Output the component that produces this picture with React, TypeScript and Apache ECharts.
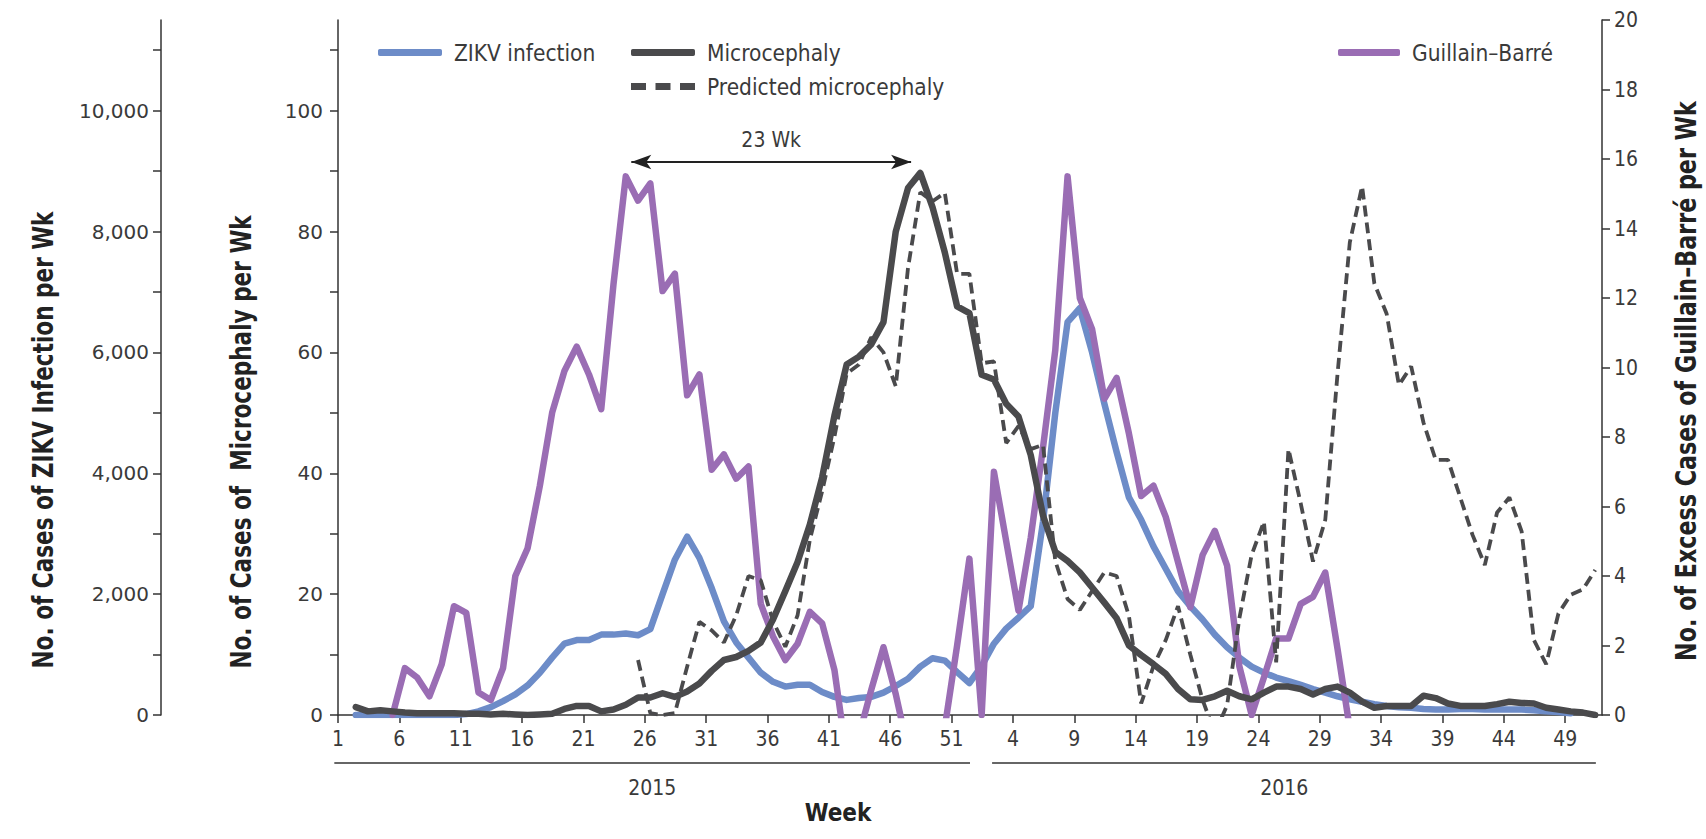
import React, { useEffect, useRef } from "react";
import * as echarts from "echarts";

// Week positions: index 0 = 2015 week 1, index 52 = 2016 week 1. Points sit mid-week.
const WEEK_OFFSET = 0.45;
const X_MAX = 103;
const TICK_LABELS = ["1", "6", "11", "16", "21", "26", "31", "36", "41", "46", "51", "4", "9", "14", "19", "24", "29", "34", "39", "44", "49"];

// ZIKV infection cases per week (left outer axis)
const ZIKV = [
  null, 0, 0, 0, 0, 0, 0, 0, 0, 0,
  15, 60, 130, 230, 340, 490, 700, 950, 1180, 1240,
  1240, 1330, 1330, 1350, 1320, 1420, 2000, 2570, 2950, 2600,
  2100, 1550, 1200, 950, 700, 550, 470, 500, 500, 380,
  300, 250, 280, 300, 370, 480, 600, 800, 940, 900,
  710, 530, 810, 1180, 1430, 1610, 1800, 3200, 5000, 6500,
  6730, 6000, 5150, 4350, 3600, 3230, 2790, 2420, 2050, 1800,
  1580, 1330, 1120, 950, 800, 700, 620, 560, 500, 430,
  370, 310, 260, 220, 180, 150, 130, 120, 100, 90,
  90, 100, 100, 90, 90, 90, 90, 80, 60, 50,
  30, null, null,
];

// Microcephaly cases per week
const MICRO = [
  null, 1.3, 0.6, 0.8, 0.6, 0.4, 0.3, 0.3, 0.3, 0.3,
  0.2, 0.2, 0.1, 0.2, 0.1, 0, 0.1, 0.2, 1.0, 1.5,
  1.5, 0.6, 0.9, 1.7, 2.9, 2.9, 3.6, 3.0, 3.9, 5.2,
  7.3, 9.1, 9.6, 10.6, 12, 15.8, 20.5, 25.3, 31.5, 39.3,
  49.5, 58, 59.3, 61.3, 65, 80, 87.2, 89.7, 84, 76.5,
  67.6, 66.5, 56.3, 55.5, 51.5, 49.4, 43, 33, 27, 25.5,
  23.6, 21.1, 18.6, 16, 11.5, 9.9, 8.4, 6.8, 4.3, 2.6,
  2.5, 3.1, 4.0, 3.1, 2.6, 3.7, 4.7, 4.7, 4.3, 3.4,
  4.3, 4.7, 3.7, 2.2, 1.2, 1.5, 1.5, 1.5, 3.2, 2.8,
  1.9, 1.5, 1.5, 1.5, 1.8, 2.2, 2.0, 1.9, 1.2, 0.9,
  0.6, 0.4, 0,
];

// Predicted microcephaly per week
const PREDICTED = [
  null, null, null, null, null, null, null, null, null, null,
  null, null, null, null, null, null, null, null, null, null,
  null, null, null, null, 9.1, 0.3, 0, 0.3, 8, 15.4,
  14, 12, 16.5, 23, 22.3, 15.5, 11.3, 16.5, 29, 37,
  46, 56.5, 58, 62.5, 60, 54.4, 74, 86.5, 85, 86.4,
  73, 73, 58.2, 58.5, 45, 47.8, 44, 44.7, 25.5, 19.2,
  17.4, 20.5, 23.6, 23, 16.4, 1.9, 8.1, 12.4, 18, 10,
  2.5, -3, 1.6, 16, 26.5, 32, 8.7, 44, 35, 25.4,
  32.3, 56.5, 78.2, 87.5, 71.4, 66.4, 54.6, 57.7, 48.4, 42.2,
  42.2, 36, 29.8, 24.8, 33.5, 36, 30.4, 12.4, 8.4, 16.8,
  19.9, 20.8, 24,
];

// Excess Guillain-Barre cases per week (right axis)
const GBS = [
  null, null, null, null, 0, 1.35, 1.08, 0.54, 1.46, 3.13,
  2.94, 0.65, 0.43, 1.35, 4.0, 4.8, 6.6, 8.7, 9.9, 10.6,
  9.8, 8.8, 12.4, 15.5, 14.8, 15.3, 12.2, 12.7, 9.2, 9.8,
  7.06, 7.5, 6.8, 7.15, 3.2, 2.26, 1.58, 2.05, 2.97, 2.64,
  1.3, -1.2, -0.6, 0.72, 1.95, 0.6, -1.0, -1.5, -1.5, -0.35,
  2.0, 4.5, 0, 7.0, 5.0, 3.0, 5.1, 7.7, 10.5, 15.5,
  12.0, 11.1, 9.1, 9.7, 8.1, 6.3, 6.6, 5.7, 4.4, 3.1,
  4.6, 5.3, 4.3, 1.4, 0, 1.08, 2.2, 2.2, 3.2, 3.4,
  4.1, 1.9, -0.4, null, null, null, null, null, null, null,
  null, null, null, null, null, null, null, null, null, null,
  null, null, null,
];

// Annotation: lag between peaks
const LAG_LABEL = "23 Wk";
const LAG_FROM_WEEK = 23.9;
const LAG_TO_WEEK = 46.7;
const LAG_LEVEL = 91.5;

const MICRO_TICKS = [0, 10, 20, 30, 40, 50, 60, 70, 80, 90, 100, 110];
const MICRO_LABELS = [0, 20, 40, 60, 80, 100];
const ZIKV_TICKS = [0, 1000, 2000, 3000, 4000, 5000, 6000, 7000, 8000, 9000, 10000, 11000];
const ZIKV_LABELS = [0, 2000, 4000, 6000, 8000, 10000];

const BLUE = "#6d8cc8";
const DARK = "#4a4a4c";
const PURPLE = "#9a6db4";
const AXIS = "#333333";
const TEXT = "#3a3a3a";

const CONDENSED = "'Liberation Sans Narrow', 'DejaVu Sans Condensed', 'Roboto Condensed', 'Open Sans', sans-serif";
const WIDE = "'DejaVu Sans', 'Open Sans', sans-serif";
const DASH_ICON = "path://M0,0H15V7H0Z M24.5,0H39.5V7H24.5Z M49,0H64V7H49Z";

const toPoints = (arr: (number | null)[]) => arr.map((v, k) => [k + WEEK_OFFSET, v]);

export default function App() {
  const ref = useRef<HTMLDivElement>(null);

  useEffect(() => {
    if (!ref.current) return;
    const chart = echarts.init(ref.current, undefined, { renderer: "svg" });
    const tickPos = TICK_LABELS.map((_, i) => i * 5);
    const axisLineStyle = { color: AXIS, width: 1.5 };
    const legendText = { fontSize: 22.5, color: TEXT, fontFamily: CONDENSED, padding: [0, 0, 0, 7] };

    const option: any = {
      animation: false,
      backgroundColor: "#ffffff",
      grid: { left: 338, right: 104, top: 20, bottom: 124, containLabel: false },
      legend: [
        {
          data: [{ name: "ZIKV infection", icon: "roundRect" }], left: 373, top: 36, itemWidth: 64, itemHeight: 7,
          lineStyle: { width: 0 }, itemStyle: { borderWidth: 0 },
          textStyle: legendText,
        },
        {
          data: [
            { name: "Microcephaly", icon: "roundRect" },
            { name: "Predicted microcephaly", icon: DASH_ICON },
          ],
          left: 626, top: 36, orient: "vertical",
          itemWidth: 64, itemHeight: 7, itemGap: 11,
          lineStyle: { width: 0 }, itemStyle: { borderWidth: 0 },
          textStyle: legendText,
        },
        {
          data: [{ name: "Guillain\u2013Barr\u00e9", icon: "roundRect" }], left: 1333, top: 36, itemWidth: 62, itemHeight: 7,
          lineStyle: { width: 0 }, itemStyle: { borderWidth: 0 },
          textStyle: legendText,
        },
      ],
      xAxis: {
        type: "value", min: 0, max: X_MAX, interval: 5,
        axisLine: { lineStyle: axisLineStyle },
        axisTick: { length: 8, lineStyle: axisLineStyle, customValues: tickPos },
        axisLabel: {
          customValues: tickPos, margin: 13, fontSize: 21, color: TEXT, fontFamily: CONDENSED,
          formatter: (v: number) => TICK_LABELS[Math.round(v / 5)] ?? "",
        },
        splitLine: { show: false },
      },
      yAxis: [
        {
          type: "value", min: 0, max: 115, position: "left",
          axisLine: { show: true, lineStyle: axisLineStyle },
          axisTick: { show: true, length: 8, lineStyle: axisLineStyle, customValues: MICRO_TICKS },
          axisLabel: { customValues: MICRO_LABELS, margin: 15, fontSize: 20, color: TEXT, fontFamily: WIDE },
          splitLine: { show: false },
        },
        {
          type: "value", min: 0, max: 11500, position: "left", offset: 177,
          axisLine: { show: true, lineStyle: axisLineStyle },
          axisTick: { show: true, length: 8, lineStyle: axisLineStyle, customValues: ZIKV_TICKS },
          axisLabel: {
            customValues: ZIKV_LABELS, margin: 12, fontSize: 20, color: TEXT, fontFamily: WIDE,
            formatter: (v: number) => v.toLocaleString("en-US"),
          },
          splitLine: { show: false },
        },
        {
          type: "value", min: 0, max: 20, interval: 2, position: "right",
          axisLine: { show: true, lineStyle: axisLineStyle },
          axisTick: { show: true, length: 8, lineStyle: axisLineStyle },
          axisLabel: { margin: 12, fontSize: 21, color: TEXT, fontFamily: CONDENSED },
          splitLine: { show: false },
        },
      ],
      series: [
        {
          name: "ZIKV infection", type: "line", yAxisIndex: 1, data: toPoints(ZIKV),
          showSymbol: false, symbol: "none", color: BLUE,
          lineStyle: { color: BLUE, width: 6.5, cap: "round", join: "round" },
        },
        {
          name: "Guillain\u2013Barr\u00e9", type: "line", yAxisIndex: 2, data: toPoints(GBS),
          showSymbol: false, symbol: "none", color: PURPLE,
          lineStyle: { color: PURPLE, width: 6.5, cap: "round", join: "round" },
        },
        {
          name: "Microcephaly", type: "line", yAxisIndex: 0, data: toPoints(MICRO),
          showSymbol: false, symbol: "none", color: DARK,
          lineStyle: { color: DARK, width: 6.5, cap: "round", join: "round" },
          markLine: {
            silent: true, symbol: ["arrow", "arrow"], symbolSize: [11, 20],
            lineStyle: { color: "#222", width: 2, type: "solid" },
            label: {
              show: true, position: "insideMiddleTop", formatter: LAG_LABEL, distance: 12,
              fontSize: 21, color: TEXT, fontFamily: CONDENSED,
            },
            data: [[{ coord: [LAG_FROM_WEEK, LAG_LEVEL] }, { coord: [LAG_TO_WEEK, LAG_LEVEL] }]],
          },
        },
        {
          name: "Predicted microcephaly", type: "line", yAxisIndex: 0, data: toPoints(PREDICTED),
          showSymbol: false, symbol: "none", color: DARK,
          lineStyle: { color: DARK, width: 3.8, type: [11, 6] },
        },
      ],
    };
    chart.setOption(option);

    const px = (x: number, y: number) => chart.convertToPixel({ xAxisIndex: 0, yAxisIndex: 0 }, [x, y]) as number[];
    const base = px(0, 0);
    const y15a = px(-0.3, 0), y15b = px(51.5, 0);
    const y16a = px(53.3, 0), y16b = px(102.5, 0);
    const lineY = base[1] + 48;
    const yearY = base[1] + 73;
    const titleFont = "'Liberation Sans Narrow', 'DejaVu Sans Condensed', 'Roboto Condensed', sans-serif";
    const titleStyle = { fontWeight: "bold", fontFamily: titleFont, fill: "#222", align: "center", verticalAlign: "middle" };

    chart.setOption({
      graphic: [
        { type: "line", shape: { x1: y15a[0], y1: lineY, x2: y15b[0], y2: lineY }, style: { stroke: AXIS, lineWidth: 1.5 } },
        { type: "line", shape: { x1: y16a[0], y1: lineY, x2: y16b[0], y2: lineY }, style: { stroke: AXIS, lineWidth: 1.5 } },
        { type: "text", x: px(25.6, 0)[0], y: yearY, style: { text: "2015", fontSize: 21, fontFamily: CONDENSED, fill: TEXT, align: "center", verticalAlign: "middle" } },
        { type: "text", x: px(77.1, 0)[0], y: yearY, style: { text: "2016", fontSize: 21, fontFamily: CONDENSED, fill: TEXT, align: "center", verticalAlign: "middle" } },
        { type: "text", x: 838, y: 813, style: { ...titleStyle, text: "Week", fontSize: 24 } },
        { type: "text", x: 43, y: 440, rotation: Math.PI / 2, scaleY: 1.18, style: { ...titleStyle, text: "No. of Cases of ZIKV Infection per Wk", fontSize: 24 } },
        { type: "text", x: 241, y: 442, rotation: Math.PI / 2, scaleY: 1.18, style: { ...titleStyle, text: "No. of Cases of  Microcephaly per Wk", fontSize: 24 } },
        { type: "text", x: 1686, y: 381, rotation: Math.PI / 2, scaleY: 1.15, style: { ...titleStyle, text: "No. of Excess Cases of Guillain\u2013Barr\u00e9 per Wk", fontSize: 24.7 } },
      ],
    });

    return () => chart.dispose();
  }, []);

  return (
    <div
      ref={ref}
      style={{ position: "fixed", left: 0, top: 0, width: "1706px", height: "839px", background: "#fff" }}
    />
  );
}
